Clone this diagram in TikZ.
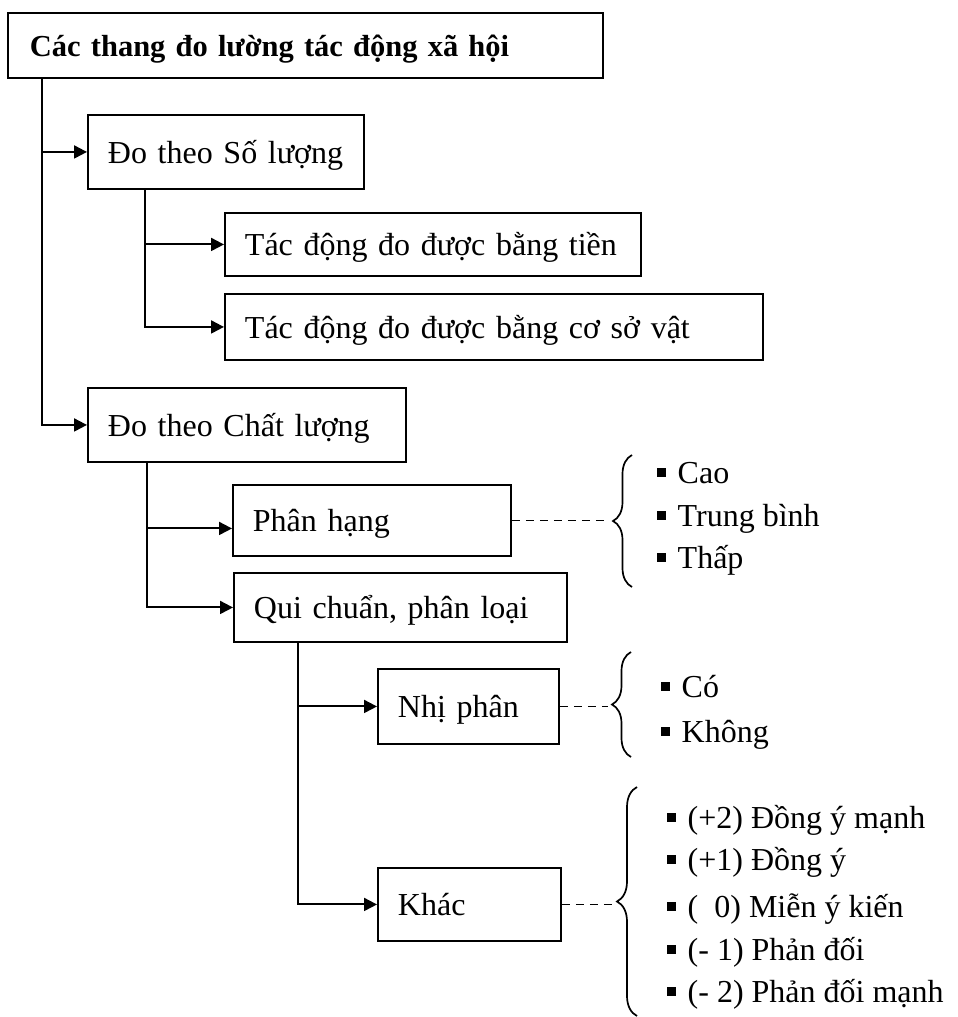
\documentclass[tikz,border=0pt]{standalone}
\usepackage{fontspec}
\setmainfont{Liberation Serif}
\usetikzlibrary{arrows.meta,decorations.pathreplacing}

\newcommand{\bul}{\rule[6.5pt]{8.5pt}{8.5pt}\hspace{12pt}}

\tikzset{
  box/.style={draw, line width=1.9pt, anchor=north west, inner xsep=20pt, inner ysep=0pt,
    align=left, text height=31pt, text depth=8pt, font=\fontsize{32}{38}\selectfont},
  link/.style={line width=2pt, -{Triangle[length=13pt,width=13pt]}},
  dots/.style={line width=1.3pt, dash pattern=on 8pt off 6pt},
  curly/.style={line width=1.7pt, decorate, decoration={brace, amplitude=#1}},
  item/.style={anchor=base west, inner sep=0pt, font=\fontsize{32}{38}\selectfont}
}

\begin{document}
\begin{tikzpicture}[x=1pt,y=-1pt]
        \useasboundingbox (0,0) rectangle (958,1017);
        % boxes
        \node[box, font=\bfseries\fontsize{30.5}{36}\selectfont, inner xsep=22pt, text width=551pt, minimum height=65pt] (root) at (7,12) {Các thang đo lường tác động xã hội};
        \node[box, text width=236pt, minimum height=74pt] (qty) at (87,114) {Đo theo Số lượng};
        \node[box, text width=376pt, minimum height=63pt] (money) at (224,212) {Tác động đo được bằng tiền};
        \node[box, text width=498pt, minimum height=66pt] (asset) at (224,293) {Tác động đo được bằng cơ sở vật};
        \node[box, text width=278pt, minimum height=74pt] (qual) at (87,387) {Đo theo Chất lượng};
        \node[box, text width=238pt, minimum height=71pt] (rank) at (232,484) {Phân hạng};
        \node[box, text width=293pt, minimum height=69pt] (norm) at (233,572) {Qui chuẩn, phân loại};
        \node[box, text width=141pt, minimum height=75pt] (binary) at (377,668) {Nhị phân};
        \node[box, text width=143pt, minimum height=73pt] (other) at (377,867) {Khác};
        % tree links
        \draw[link] ([xshift=35pt]root.south west) |- (qty.west);
        \draw[link] ([xshift=35pt]root.south west) |- (qual.west);
        \draw[link] ([xshift=58pt]qty.south west) |- (money.west);
        \draw[link] ([xshift=58pt]qty.south west) |- (asset.west);
        \draw[link] ([xshift=60pt]qual.south west) |- ([yshift=-8pt]rank.west);
        \draw[link] ([xshift=60pt]qual.south west) |- (norm.west);
        \draw[link] ([xshift=65pt]norm.south west) |- (binary.west);
        \draw[link] ([xshift=65pt]norm.south west) |- (other.west);
        % braces and their tips
        \draw[curly=19pt] (632,587) -- (632,455);
        \coordinate (ranktip) at (613,521);
        \draw[curly=19pt] (631,757) -- (631,652);
        \coordinate (bintip) at (612,705);
        \draw[curly=20pt] (637,1016) -- (637,787);
        \coordinate (othtip) at (617,902);
        \draw[dots] (rank.east) -- ([xshift=-6pt]rank.east -| ranktip);
        \draw[dots] (binary.east) -- ([xshift=-4pt]binary.east -| bintip);
        \draw[dots] (other.east) -- (other.east -| othtip);
        % items
        \node[item] (high) at (657,483) {\bul Cao};
        \node[item] (mid) at (657,526) {\bul Trung bình};
        \node[item] (low) at (657,568) {\bul Thấp};
        \node[item] (yes) at (661,697) {\bul Có};
        \node[item] (no) at (661,742) {\bul Không};
        \node[item] (agree2) at (667,828) {\bul (+2) Đồng ý mạnh};
        \node[item] (agree1) at (667,870) {\bul (+1) Đồng ý};
        \node[item] (neutral) at (667,917) {\bul (\ \ 0) Miễn ý kiến};
        \node[item] (oppose1) at (667,960) {\bul (- 1) Phản đối};
        \node[item] (oppose2) at (667,1002) {\bul (- 2) Phản đối mạnh};
      \end{tikzpicture}
\end{document}
